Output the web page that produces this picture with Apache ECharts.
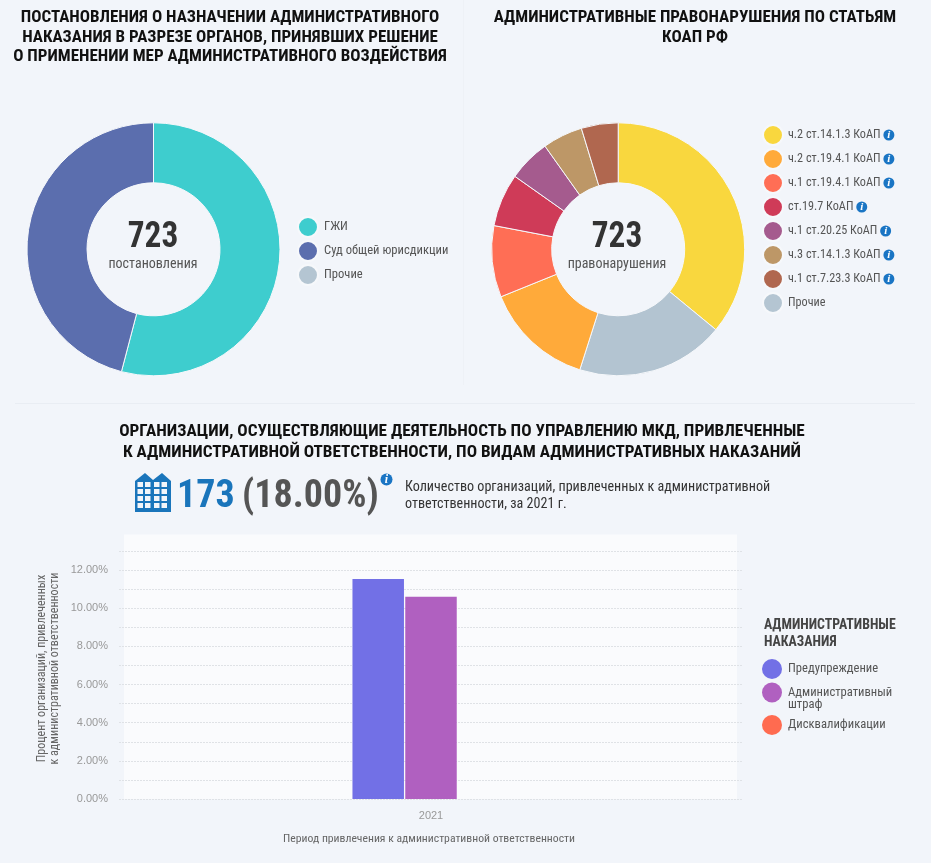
<!DOCTYPE html>
<html><head><meta charset="utf-8">
<style>html,body{margin:0;padding:0;background:#f2f5fa;}#c{width:931px;height:863px;}</style>
<script src="https://cdn.jsdelivr.net/npm/echarts@6/dist/echarts.min.js"></script>
</head><body><div id="c"></div>
<script>
const NARROW = '"Liberation Sans Narrow", "Roboto Condensed", Roboto, sans-serif';
const BG = '#f2f5fa';

const bodyNames = ['ГЖИ','Суд общей юрисдикции','Прочие'];
const bodyValues = [391,332,0];
const bodyColors = ['#3ecdce','#5b6eae','#b4c5d2'];

const articleNames = ['ч.2 ст.14.1.3 КоАП','Прочие','ч.2 ст.19.4.1 КоАП','ч.1 ст.19.4.1 КоАП','ст.19.7 КоАП','ч.1 ст.20.25 КоАП','ч.3 ст.14.1.3 КоАП','ч.1 ст.7.23.3 КоАП'];
const articleValues = [260,137,101,66,49,39,37,34];
const articleColors = ['#f9d73e','#b3c4d1','#ffaa3a','#ff6e55','#cf3b58','#a55b8e','#bd9767','#b0674f'];
const articleLegendOrder = ['ч.2 ст.14.1.3 КоАП','ч.2 ст.19.4.1 КоАП','ч.1 ст.19.4.1 КоАП','ст.19.7 КоАП','ч.1 ст.20.25 КоАП','ч.3 ст.14.1.3 КоАП','ч.1 ст.7.23.3 КоАП','Прочие'];

const years = ['2021'];
const warningValues = [11.54];
const fineValues = [10.6];
const disqualValues = [0];

const title1 = 'ПОСТАНОВЛЕНИЯ О НАЗНАЧЕНИИ АДМИНИСТРАТИВНОГО\nНАКАЗАНИЯ В РАЗРЕЗЕ ОРГАНОВ, ПРИНЯВШИХ РЕШЕНИЕ\nО ПРИМЕНЕНИИ МЕР АДМИНИСТРАТИВНОГО ВОЗДЕЙСТВИЯ';
const title2 = 'АДМИНИСТРАТИВНЫЕ ПРАВОНАРУШЕНИЯ ПО СТАТЬЯМ\nКОАП РФ';
const title3 = 'ОРГАНИЗАЦИИ, ОСУЩЕСТВЛЯЮЩИЕ ДЕЯТЕЛЬНОСТЬ ПО УПРАВЛЕНИЮ МКД, ПРИВЛЕЧЕННЫЕ\nК АДМИНИСТРАТИВНОЙ ОТВЕТСТВЕННОСТИ, ПО ВИДАМ АДМИНИСТРАТИВНЫХ НАКАЗАНИЙ';

function pie(names, values, colors, cx){
  return {type:'pie', center:[cx,249.3], radius:[66.5,126.5], startAngle:90, silent:true, animation:false,
    label:{show:false}, labelLine:{show:false},
    itemStyle:{borderColor:'#f6f8fb',borderWidth:1},
    data:names.map((n,i)=>({name:n,value:values[i],itemStyle:{color:colors[i]}}))};
}
function txt(x,y,text,size,weight,fill,align,lh,extra){
  return Object.assign({type:'text',x,y,silent:true,style:{text,fontFamily:NARROW,fontSize:size,fontWeight:weight,fill,align,verticalAlign:'middle',lineHeight:lh}},extra||{});
}
// building icon windows
const winCols=[137.5,145,154,161.5], winRows=[482,489,496,503];
const win=[];
winCols.forEach(x=>winRows.forEach(y=>win.push({type:'rect',silent:true,shape:{x,y,width:5.5,height:5},style:{fill:BG}})));

const legendBase={orient:'vertical',icon:'circle',itemWidth:20,itemHeight:20,itemGap:2,padding:0,selectedMode:false};
const legendText={fontFamily:NARROW,fontSize:12.6,color:'#555',padding:[0,0,0,1]};
const infoRich = {i:{backgroundColor:'#1a75c4',borderRadius:6,width:11,height:11,lineHeight:11,align:'center',color:'#fff',fontFamily:'"Liberation Serif",serif',fontStyle:'italic',fontWeight:'bold',fontSize:11}};

const chart = echarts.init(document.getElementById('c'),null,{renderer:'canvas'});
chart.setOption({
  animation:false,
  backgroundColor:BG,
  legend:[
    Object.assign({},legendBase,{left:297,top:216,data:bodyNames,textStyle:legendText}),
    Object.assign({},legendBase,{left:762,top:124,data:articleLegendOrder,
      formatter:n=>n==='Прочие'?n:n+' {i|i}',
      textStyle:Object.assign({},legendText,{fontSize:12.2,padding:[0,0,0,0],rich:infoRich})}),
    Object.assign({},legendBase,{left:762,top:659,data:['Предупреждение'],textStyle:legendText}),
    Object.assign({},legendBase,{left:762,top:674,data:['Административный\nштраф'],formatter:n=>'\n'+n,textStyle:Object.assign({},legendText,{lineHeight:12})}),
    Object.assign({},legendBase,{left:762,top:715,data:['Дисквалификации'],textStyle:legendText})
  ],
  grid:{left:119,right:931-743,top:532,bottom:863-799},
  xAxis:{type:'category',data:years,axisLine:{show:false},axisTick:{show:false},
    axisLabel:{color:'#999',fontFamily:'"Liberation Sans",Arial,sans-serif',fontSize:11,margin:11},
    name:'Период привлечения к административной ответственности',nameLocation:'middle',nameGap:34,nameMoveOverlap:false,
    nameTextStyle:{fontFamily:NARROW,fontSize:11.7,color:'#666',padding:[0,4,0,0]}},
  yAxis:{type:'value',min:0,max:14,interval:1,
    axisLine:{show:false},axisTick:{show:false},
    splitLine:{show:true,showMaxLine:false,lineStyle:{color:'#dfe2e6',type:[2,1],width:1}},
    axisLabel:{color:'#999',fontFamily:'"Liberation Sans",Arial,sans-serif',fontSize:11,margin:11,showMaxLabel:false,padding:[2,0,0,0],
      formatter:v=>v%2===0?v.toFixed(2)+'%':''},
    name:'Процент организаций, привлеченных\nк административной ответственности',nameLocation:'middle',nameRotate:90,nameGap:57.5,nameMoveOverlap:false,
    nameTextStyle:{fontFamily:NARROW,fontSize:12,color:'#666',lineHeight:13,padding:[0,6,0,0]}},
  series:[
    pie(bodyNames,bodyValues,bodyColors,153.5),
    pie(articleNames,articleValues,articleColors,618.2),
    {type:'bar',name:'Предупреждение',data:warningValues,barWidth:51.5,barGap:'2.5%',itemStyle:{color:'#7270e6'},silent:true},
    {type:'bar',name:'Административный\nштраф',data:fineValues,barWidth:51.5,barGap:'2.5%',itemStyle:{color:'#b060c0'},silent:true},
    {type:'bar',name:'Дисквалификации',data:disqualValues,barWidth:51.5,barGap:'2.5%',itemStyle:{color:'#ff6b50'},silent:true}
  ],
  graphic:[
    {type:'rect',z:-1,silent:true,shape:{x:124,y:534.5,width:613,height:264.5},style:{fill:'#fafbfd'}},
    {type:'rect',z:-1,silent:true,shape:{x:463,y:0,width:1,height:385},style:{fill:'#eef1f6'}},
    {type:'rect',z:-1,silent:true,shape:{x:15,y:403,width:900,height:1},style:{fill:'#e9edf3'}},
    txt(230,37.5,title1,17,'bold','#111','center',19.7),
    txt(695,28,title2,17,'bold','#111','center',19.7),
    txt(462,442,title3,17.2,'bold','#111','center',21),
    txt(153,237.5,'723',37,'bold','#333','center',undefined,{scaleX:.9}),
    txt(153,264.5,'постановления',14,'normal','#555','center'),
    txt(617,237.5,'723',37,'bold','#333','center',undefined,{scaleX:.9}),
    txt(617,264.5,'правонарушения',14,'normal','#555','center'),
    txt(177,497,'173',38,'bold','#1a75bb','left'),
    txt(242,497,'(18.00%)',38,'bold','#555','left'),
    txt(405,496,'Количество организаций, привлеченных к административной\nответственности, за 2021 г.',14.1,'normal','#333','left',17),
    txt(764,634,'АДМИНИСТРАТИВНЫЕ\nНАКАЗАНИЯ',13.8,'bold','#444','left',17),
    {type:'polygon',silent:true,shape:{points:[[135,512],[135,481],[145,473],[153,480],[162,473],[171,481],[171,512]]},style:{fill:'#1a75bb'}},
    ...win,
    {type:'circle',silent:true,shape:{cx:386.5,cy:479.5,r:6},style:{fill:'#1a75c4'}},
    {type:'text',x:386.5,y:480,silent:true,style:{text:'i',fontFamily:'"Liberation Serif",serif',fontStyle:'italic',fontWeight:'bold',fontSize:12,fill:'#fff',align:'center',verticalAlign:'middle'}}
  ]
});
</script></body></html>
